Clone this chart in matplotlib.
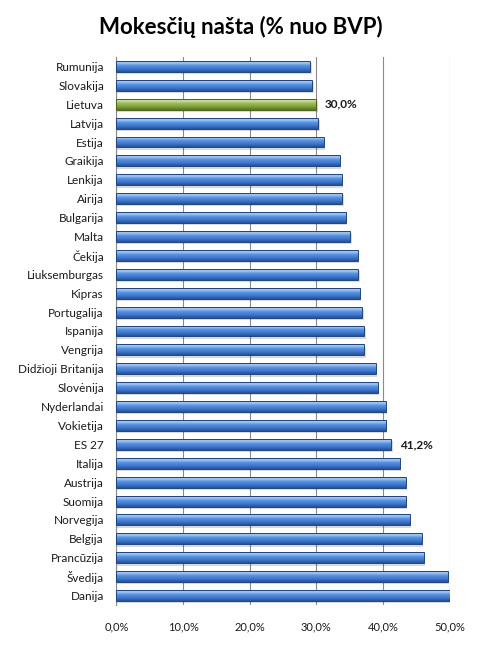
import matplotlib
matplotlib.use("Agg")
import matplotlib.pyplot as plt
import numpy as np
from matplotlib.colors import LinearSegmentedColormap

plt.rcParams['font.family'] = ['Lato', 'DejaVu Sans']

countries = ["Rumunija", "Slovakija", "Lietuva", "Latvija", "Estija", "Graikija",
             "Lenkija", "Airija", "Bulgarija", "Malta", "Čekija", "Liuksemburgas",
             "Kipras", "Portugalija", "Ispanija", "Vengrija", "Didžioji Britanija",
             "Slovėnija", "Nyderlandai", "Vokietija", "ES 27", "Italija", "Austrija",
             "Suomija", "Norvegija", "Belgija", "Prancūzija", "Švedija", "Danija"]
values = [29.1, 29.4, 30.0, 30.3, 31.1, 33.5, 33.8, 33.9, 34.4, 35.1, 36.2, 36.3,
          36.5, 36.9, 37.2, 37.2, 38.9, 39.2, 40.4, 40.4, 41.2, 42.5, 43.4, 43.4,
          44.0, 45.8, 46.1, 49.7, 50.0]
labelled = {"Lietuva": "30,0%", "ES 27": "41,2%"}
ticks = [0, 10, 20, 30, 40, 50]

fig = plt.figure(figsize=(4.82, 6.49), dpi=100)
ax = fig.add_axes([0.2417, 0.0678, 0.6913, 0.8444])

# dark (bottom of bar) -> light (top of bar)
blue = LinearSegmentedColormap.from_list("b", [(0, "#24509a"), (0.3, "#3f78cc"),
                                               (0.6, "#5a93e0"), (0.85, "#a8cbf5"),
                                               (1, "#7aa6e2")])
green = LinearSegmentedColormap.from_list("g", [(0, "#56721f"), (0.3, "#7c9e3c"),
                                                (0.6, "#99bb58"), (0.85, "#cce09c"),
                                                (1, "#a8c76e")])

ypos = np.arange(len(countries))
bars = ax.barh(ypos, values, height=0.58, color="none", zorder=3)
grad = np.linspace(1, 0, 64).reshape(-1, 1)  # row 0 = visual top = light
for name, b in zip(countries, bars):
    x0, y0 = b.get_x(), b.get_y()
    w, h = b.get_width(), b.get_height()
    cmap = green if name == "Lietuva" else blue
    edge = "#4b661c" if name == "Lietuva" else "#1f4580"
    # soft shadow under the bar
    ax.add_patch(plt.Rectangle((x0, y0 + 0.12), w + 0.25, h, facecolor="#000000",
                               alpha=0.15, lw=0, zorder=2))
    im = ax.imshow(grad, cmap=cmap, vmin=0, vmax=1, aspect="auto",
                   extent=[x0, x0 + w, y0 + h, y0], origin="upper", zorder=3,
                   interpolation="bilinear")
    im.set_clip_path(b)
    ax.add_patch(plt.Rectangle((x0, y0), w, h, fill=False, edgecolor=edge, lw=0.7, zorder=4))
    if name in labelled:
        ax.text(w + 1.3, b.get_y() + h / 2, labelled[name],
                va="center", ha="left", fontsize=8.5, fontweight="bold", color="#1a1a1a")

ax.set_xlim(0, 50)
ax.set_ylim(len(countries) - 0.5, -0.5)
ax.set_yticks(ypos)
ax.set_yticklabels(countries, fontsize=8.5, color="#1a1a1a")
ax.set_xticks(ticks)
ax.set_xticklabels([f"{t:.1f}%".replace(".", ",") for t in ticks], fontsize=8, color="#1a1a1a")
ax.tick_params(axis="y", length=0, pad=9)
ax.tick_params(axis="x", length=0, pad=12)
ax.grid(axis="x", color="#8a8a8a", lw=0.8, zorder=0)
ax.set_axisbelow(True)
for s in ["top", "right", "bottom"]:
    ax.spines[s].set_visible(False)
ax.spines["left"].set_color("#8a8a8a")
ax.spines["left"].set_linewidth(0.8)

fig.text(0.5, 0.958, "Mokesčių našta (% nuo BVP)", ha="center", va="center",
         fontsize=16, fontweight="bold")

fig.savefig("out.png", dpi=100)
